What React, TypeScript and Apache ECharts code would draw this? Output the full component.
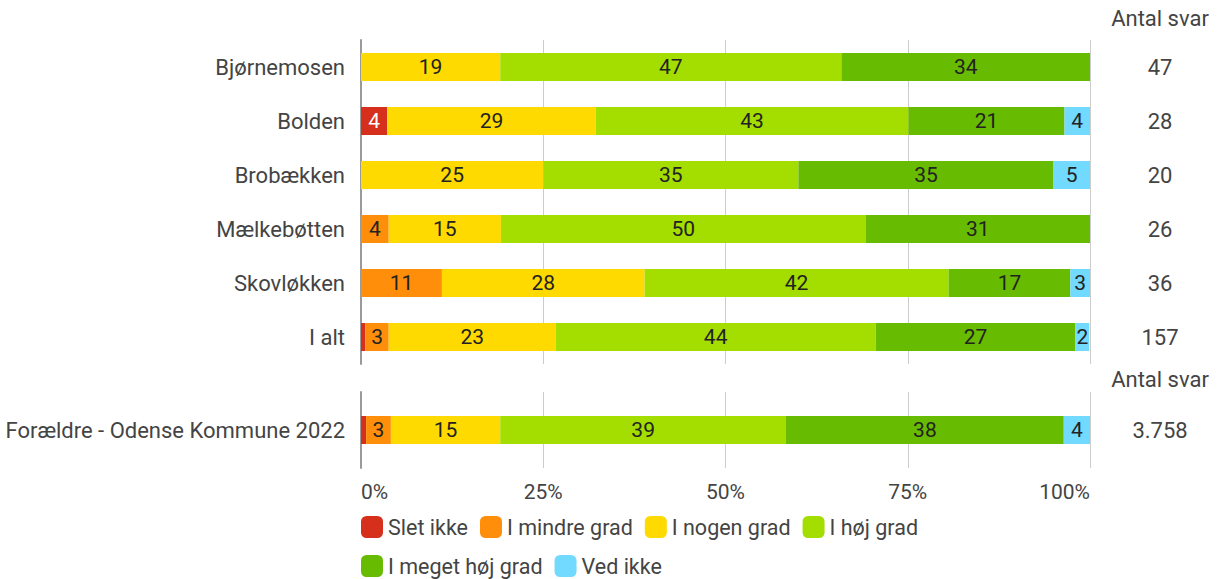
import React, { useEffect, useRef } from "react";
import * as echarts from "echarts";

const categories = ["Bjørnemosen", "Bolden", "Brobækken", "Mælkebøtten", "Skovløkken", "I alt"];
const counts = ["47", "28", "20", "26", "36", "157"];
const totalCategory = ["Forældre - Odense Kommune 2022"];
const totalCount = ["3.758"];
const seriesNames = ["Slet ikke", "I mindre grad", "I nogen grad", "I høj grad", "I meget høj grad", "Ved ikke"];
const colors = ["#d62f1b", "#ff8e0a", "#ffda00", "#a4dd00", "#67bb00", "#72d9ff"];
const sletIkke = [0, 3.6, 0, 0, 0, 0.6];
const iMindreGrad = [0, 0, 0, 3.8, 11.1, 3.2];
const iNogenGrad = [19.1, 28.6, 25, 15.4, 27.8, 22.9];
const iHoejGrad = [46.8, 42.9, 35, 50, 41.7, 43.9];
const iMegetHoejGrad = [34.1, 21.4, 35, 30.8, 16.7, 27.4];
const vedIkke = [0, 3.6, 5, 0, 2.8, 1.9];
const totalValues = [0.7, 3.4, 15.0, 39.2, 38.1, 3.6];
const xTicks = [0, 25, 50, 75, 100];

const FONT = "Roboto";

export default function App() {
  const ref = useRef<HTMLDivElement>(null);
  useEffect(() => {
    if (!ref.current) return;
    const chart = echarts.init(ref.current, undefined, { renderer: "svg" });
    const topData = [sletIkke, iMindreGrad, iNogenGrad, iHoejGrad, iMegetHoejGrad, vedIkke];
    const labelFmt = (p: any) => (p.value >= 1.5 ? String(Math.round(p.value)) : "");
    const mk = (i: number, gi: number, data: number[]) => ({
      name: seriesNames[i],
      type: "bar",
      stack: "s" + gi,
      xAxisIndex: gi,
      yAxisIndex: gi * 2,
      barWidth: 28,
      data,
      itemStyle: { color: colors[i] },
      label: {
        show: true,
        position: "inside",
        formatter: labelFmt,
        color: i === 0 ? "#ffffff" : "#222222",
        fontFamily: FONT,
        fontSize: 21,
      },
      emphasis: { disabled: true },
    });
    const series: any[] = [];
    for (let i = 0; i < 6; i++) series.push(mk(i, 0, topData[i]));
    for (let i = 0; i < 6; i++) series.push(mk(i, 1, [totalValues[i]]));

    const xAxisBase = {
      type: "value",
      min: xTicks[0],
      max: xTicks[xTicks.length - 1],
      interval: 25,
      axisLine: { show: false },
      axisTick: { show: false },
      splitLine: { show: true, lineStyle: { color: "#cccccc", width: 1 } },
    };
    const leftY = (gi: number, data: string[]) => ({
      type: "category",
      gridIndex: gi,
      data,
      inverse: true,
      axisLine: { show: true, lineStyle: { color: "#9a9a9a", width: 2 } },
      axisTick: { show: false },
      axisLabel: { color: "#444444", fontFamily: FONT, fontSize: 22, margin: 16 },
    });
    const rightY = (gi: number, data: string[]) => ({
      type: "category",
      gridIndex: gi,
      data,
      inverse: true,
      position: "right",
      axisLine: { show: false },
      axisTick: { show: false },
      axisLabel: { color: "#444444", fontFamily: FONT, fontSize: 22, margin: 70, align: "center" },
    });
    const legendBase = {
      itemWidth: 22,
      itemHeight: 22,
      itemGap: 12,
      padding: 0,
      icon: "roundRect",
      textStyle: { color: "#444444", fontFamily: FONT, fontSize: 21.5 },
      selectedMode: false,
    };

    chart.setOption({
      animation: false,
      grid: [
        { left: 361, right: 132, top: 40, height: 324 },
        { left: 361, right: 132, top: 392, height: 76 },
      ],
      xAxis: [
        { ...xAxisBase, gridIndex: 0, axisLabel: { show: false } },
        {
          ...xAxisBase,
          gridIndex: 1,
          axisLabel: {
            show: true,
            formatter: "{value}%",
            color: "#444444",
            fontFamily: FONT,
            fontSize: 21,
            margin: 13,
            alignMinLabel: "left",
            alignMaxLabel: "right",
          },
        },
      ],
      yAxis: [
        leftY(0, categories),
        rightY(0, counts),
        leftY(1, totalCategory),
        rightY(1, totalCount),
      ],
      legend: [
        { ...legendBase, left: 361, top: 516, data: seriesNames.slice(0, 4) },
        { ...legendBase, left: 361, top: 555, data: seriesNames.slice(4) },
      ],
      graphic: [
        {
          type: "text",
          x: 1160,
          y: 18,
          style: { text: "Antal svar", fill: "#444444", font: `22px ${FONT}`, align: "center", verticalAlign: "middle" },
        },
        {
          type: "text",
          x: 1160,
          y: 379,
          style: { text: "Antal svar", fill: "#444444", font: `22px ${FONT}`, align: "center", verticalAlign: "middle" },
        },
      ],
      series,
    });
    return () => chart.dispose();
  }, []);
  return (
    <div
      ref={ref}
      style={{ position: "absolute", left: 0, top: 0, width: 1222, height: 579, background: "#ffffff" }}
    />
  );
}
